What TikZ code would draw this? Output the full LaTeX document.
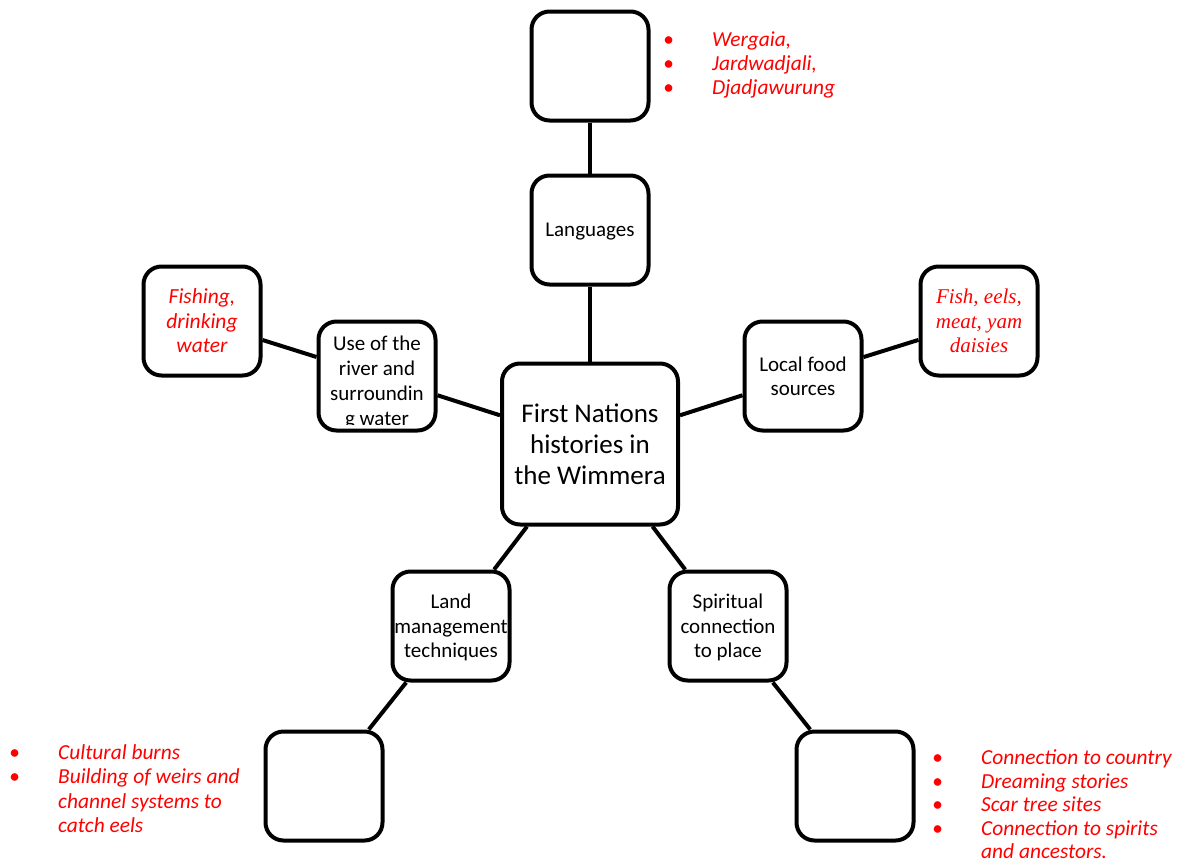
\documentclass[tikz,border=0pt]{standalone}
\usepackage{fontspec}
\setmainfont{Carlito}
\newfontfamily\cambria{Liberation Serif}
\definecolor{notered}{RGB}{255,0,0}
\tikzset{
  topic/.style = {draw, line width=4pt, rounded corners=18pt,
    minimum width=117pt, minimum height=109pt, inner sep=0pt,
    align=center, text depth=-11pt, font=\fontsize{21}{24.5}\selectfont},
  hubtopic/.style = {topic, minimum width=176pt, minimum height=161pt,
    font=\fontsize{27}{31}\selectfont},
  redtopic/.style = {topic, text=notered, font=\fontsize{21.5}{24.5}\selectfont\itshape},
  notes/.style = {text=notered, inner sep=0pt, align=left, anchor=north west,
    font=\fontsize{21.4}{24.5}\selectfont\itshape},
  link/.style = {line width=4pt}
}
\newcommand{\bul}{\makebox[49pt][l]{\textbullet}}
\newcommand{\gap}{\makebox[49pt]{}}
\begin{document}
\begin{tikzpicture}[x=1pt, y=-1pt]
	\useasboundingbox (0,0) rectangle (1187,863);
	% boxes
	\node [topic] (names) at (590,66) {};
	\node [topic] (lang) at (590,230) {Languages};
	\node [hubtopic] (hub) at (590,444) {First Nations\\histories in\\the Wimmera};
	\node [topic] (river) at (377,376) {};
	\node [redtopic] (water) at (202,321) {Fishing,\\drinking\\water};
	\node [topic] (food) at (803,376) {Local food\\sources};
	\node [redtopic, font=\fontsize{21}{24.5}\cambria\itshape] (foods) at (979,321) {Fish, eels,\\meat, yam\\daisies};
	\node [topic, text depth=-3pt] (land) at (451,626) {Land\\management\\techniques};
	\node [topic, text depth=-4pt] (spirit) at (728,626) {Spiritual\\connection\\to place};
	\node [topic] (landnotes) at (324,786) {};
	\node [topic] (spiritnotes) at (855,786) {};
	% text of the river box, cut off at the bottom
	\begin{scope}
		\clip (320,323) rectangle (435,424);
		\node [font=\fontsize{21}{25}\selectfont, align=center, inner sep=0pt] (rivertext) at (377,383) {Use of the\\river and\\surroundin\\g water};
	\end{scope}
	% links
	\draw [link] (names) -- (lang);
	\draw [link] (lang) -- (hub);
	\draw [link] (hub) -- (river);
	\draw [link] (river) -- (water);
	\draw [link] (hub) -- (food);
	\draw [link] (food) -- (foods);
	\draw [link] (hub) -- (land);
	\draw [link] (land) -- (landnotes);
	\draw [link] (hub) -- (spirit);
	\draw [link] (spirit) -- (spiritnotes);
	% bullet lists
	\node [notes, font=\fontsize{21.4}{24}\selectfont\itshape] (langlist) at (663,32) {\bul Wergaia,\\\bul Jardwadjali,\\\bul Djadjawurung};
	\node [notes] (landlist) at (9,744) {\bul Cultural burns\\\bul Building of weirs and\\\gap channel systems to\\\gap catch eels};
	\node [notes, font=\fontsize{21.4}{23.4}\selectfont\itshape] (spiritlist) at (932,750) {\bul Connection to country\\\bul Dreaming stories\\\bul Scar tree sites\\\bul Connection to spirits\\\gap and ancestors.};
\end{tikzpicture}
\end{document}
